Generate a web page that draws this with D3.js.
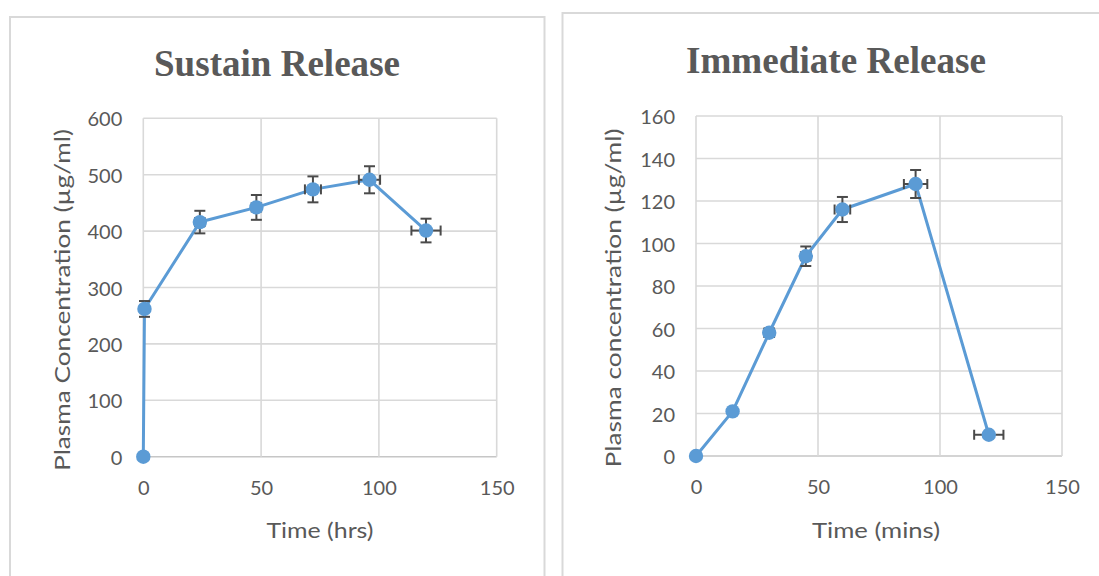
<!DOCTYPE html>
<html><head><meta charset="utf-8">
<script src="https://cdn.jsdelivr.net/npm/d3@7"></script>
<style>body{margin:0;background:#fff}svg{display:block}</style></head>
<body><svg id="c" width="1099" height="576"></svg>
<script>
// ---- Data ----
const srTime  = [0, 0.5, 24, 48, 72, 96, 120];
const srConc  = [0, 262, 416, 442, 474, 491, 401];
const srErrY  = [0, 14, 20, 22, 23, 24, 21];
const srErrX  = [0, 0, 2, 2, 3.4, 4.5, 6.2];
const srXTicks = [0, 50, 100, 150];
const srYTicks = [0, 100, 200, 300, 400, 500, 600];

const irTime  = [0, 15, 30, 45, 60, 90, 120];
const irConc  = [0, 21, 58, 94, 116, 128, 10];
const irErrY  = [0, 0, 2, 4.6, 5.9, 6.6, 1];
const irErrX  = [0, 0, 2, 2, 3.2, 4.8, 6];
const irXTicks = [0, 50, 100, 150];
const irYTicks = [0, 20, 40, 60, 80, 100, 120, 140, 160];

const titles = ["Sustain Release", "Immediate Release"];
const xTitles = ["Time (hrs)", "Time (mins)"];
const yTitles = ["Plasma Concentration (\u00b5g/ml)", "Plasma concentration (\u00b5g/ml)"];

// ---- Drawing ----
const svg = d3.select("#c");
const BLUE = "#5b9bd5", GRID = "#d9d9d9", TXT = "#595959", ERR = "#4a4a4a";
const FONT = "Lato, 'Open Sans', sans-serif";

function chart(cfg) {
  const g = svg.append("g");
  g.append("rect").attr("x", cfg.panel[0]).attr("y", cfg.panel[1])
    .attr("width", cfg.panel[2]).attr("height", cfg.panel[3])
    .attr("fill", "#fff").attr("stroke", GRID).attr("stroke-width", 2);

  const x = d3.scaleLinear().domain([0, 150]).range([cfg.plot[0], cfg.plot[1]]);
  const y = d3.scaleLinear().domain([0, cfg.yMax]).range([cfg.plot[3], cfg.plot[2]]);

  // gridlines
  g.selectAll(".hg").data(cfg.yTicks).join("line")
    .attr("x1", x(0)).attr("x2", x(150)).attr("y1", d => y(d)).attr("y2", d => y(d))
    .attr("stroke", d => d === 0 ? "#c6c6c6" : GRID).attr("stroke-width", 1.6);
  g.selectAll(".vg").data(cfg.xTicks).join("line")
    .attr("y1", y(0)).attr("y2", y(cfg.yMax)).attr("x1", d => x(d)).attr("x2", d => x(d))
    .attr("stroke", GRID).attr("stroke-width", 1.6);

  // tick labels via axes
  const ya = d3.axisLeft(y).tickValues(cfg.yTicks).tickSize(0).tickPadding(21);
  const ga = g.append("g").attr("transform", `translate(${x(0)},0)`).call(ya);
  const xa = d3.axisBottom(x).tickValues(cfg.xTicks).tickSize(0).tickPadding(24);
  const gx = g.append("g").attr("transform", `translate(0,${y(0)})`).call(xa);
  [ga, gx].forEach(a => {
    a.select(".domain").remove();
    a.selectAll("text").attr("fill", TXT).style("font-family", FONT).style("font-size", "20px");
  });
  ga.selectAll("text").attr("dy", "0.38em");

  // titles
  g.append("text").attr("x", cfg.titlePos[0]).attr("y", cfg.titlePos[1])
    .attr("text-anchor", "middle").attr("fill", TXT)
    .style("font-family", "'Liberation Serif', 'Times New Roman', serif")
    .style("font-weight", "bold").style("font-size", "37px")
    .attr("textLength", cfg.titleLen).attr("lengthAdjust", "spacingAndGlyphs")
    .text(cfg.title);
  g.append("text").attr("x", cfg.xTitlePos[0]).attr("y", cfg.xTitlePos[1])
    .attr("text-anchor", "middle").attr("dy", "0.35em").attr("fill", TXT)
    .style("font-family", FONT).style("font-size", "22px")
    .attr("textLength", cfg.xTitleLen).attr("lengthAdjust", "spacingAndGlyphs")
    .text(cfg.xTitle);
  g.append("text")
    .attr("transform", `translate(${cfg.yTitlePos[0]},${cfg.yTitlePos[1]}) rotate(-90)`)
    .attr("text-anchor", "middle").attr("dy", "0.35em").attr("fill", TXT)
    .style("font-family", FONT).style("font-size", "22px")
    .attr("textLength", cfg.yTitleLen).attr("lengthAdjust", "spacingAndGlyphs")
    .text(cfg.yTitle);

  const pts = cfg.t.map((t, i) => ({t, c: cfg.c[i], ey: cfg.ey[i], ex: cfg.ex[i]}));

  // line
  g.append("path").datum(pts)
    .attr("d", d3.line().x(d => x(d.t)).y(d => y(d.c)))
    .attr("fill", "none").attr("stroke", BLUE).attr("stroke-width", 3)
    .attr("stroke-linejoin", "round");

  // error bars
  const eb = g.append("g").attr("stroke", ERR).attr("stroke-width", 2);
  pts.filter(d => d.ey > 0).forEach(d => {
    const cx = x(d.t), y1 = y(d.c + d.ey), y2 = y(d.c - d.ey);
    eb.append("line").attr("x1", cx).attr("x2", cx).attr("y1", y1).attr("y2", y2);
    eb.append("line").attr("x1", cx - 5.5).attr("x2", cx + 5.5).attr("y1", y1).attr("y2", y1);
    eb.append("line").attr("x1", cx - 5.5).attr("x2", cx + 5.5).attr("y1", y2).attr("y2", y2);
  });
  pts.filter(d => d.ex > 0).forEach(d => {
    const cy = y(d.c), x1 = x(d.t - d.ex), x2 = x(d.t + d.ex);
    eb.append("line").attr("x1", x1).attr("x2", x2).attr("y1", cy).attr("y2", cy);
    eb.append("line").attr("x1", x1).attr("x2", x1).attr("y1", cy - 5).attr("y2", cy + 5);
    eb.append("line").attr("x1", x2).attr("x2", x2).attr("y1", cy - 5).attr("y2", cy + 5);
  });

  // markers
  g.selectAll(".m").data(pts).join("circle")
    .attr("cx", d => x(d.t)).attr("cy", d => y(d.c)).attr("r", 7.2)
    .attr("fill", BLUE);
}

chart({
  panel: [10, 17, 534.5, 570],
  plot: [143.3, 496.7, 118.3, 456.7],
  yMax: 600, xTicks: srXTicks, yTicks: srYTicks,
  t: srTime, c: srConc, ey: srErrY, ex: srErrX,
  title: titles[0], titlePos: [277, 76], titleLen: 246,
  xTitle: xTitles[0], xTitlePos: [320, 530], xTitleLen: 107,
  yTitle: yTitles[0], yTitlePos: [62, 300], yTitleLen: 342
});
chart({
  panel: [562.5, 13, 560, 580],
  plot: [696, 1062, 116, 456],
  yMax: 160, xTicks: irXTicks, yTicks: irYTicks,
  t: irTime, c: irConc, ey: irErrY, ex: irErrX,
  title: titles[1], titlePos: [836, 73], titleLen: 300,
  xTitle: xTitles[1], xTitlePos: [876, 530], xTitleLen: 128,
  yTitle: yTitles[1], yTitlePos: [613, 298], yTitleLen: 339
});
</script></body></html>
